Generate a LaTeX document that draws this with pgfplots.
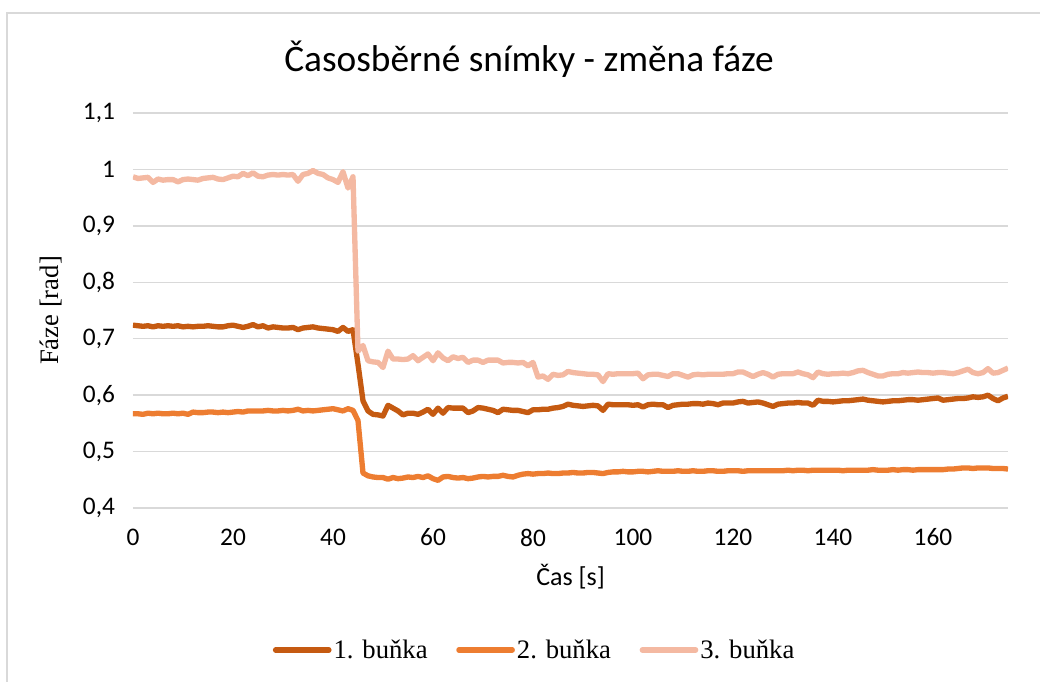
\documentclass[border=0pt]{standalone}
\usepackage{fontspec}
\setmainfont{Carlito}
\newfontfamily\timesf{Liberation Serif}
\usepackage{pgfplots}
\usepackage{pgfplotstable}
\pgfplotsset{compat=1.18}
\definecolor{cA}{HTML}{C55A11}
\definecolor{cB}{HTML}{ED7D31}
\definecolor{cC}{HTML}{F4B9A2}
\definecolor{gridc}{HTML}{D9D9D9}
\pgfplotstableread{
x s1 s2 s3
0 0.724 0.567 0.987
1 0.723 0.567 0.984
2 0.722 0.566 0.985
3 0.723 0.568 0.986
4 0.721 0.567 0.977
5 0.723 0.568 0.983
6 0.722 0.567 0.981
7 0.723 0.567 0.982
8 0.722 0.568 0.982
9 0.723 0.567 0.978
10 0.721 0.568 0.982
11 0.722 0.566 0.983
12 0.721 0.570 0.982
13 0.722 0.569 0.981
14 0.722 0.569 0.984
15 0.723 0.570 0.985
16 0.722 0.570 0.986
17 0.721 0.569 0.983
18 0.721 0.570 0.982
19 0.723 0.569 0.985
20 0.724 0.570 0.988
21 0.722 0.571 0.987
22 0.720 0.570 0.993
23 0.722 0.572 0.989
24 0.725 0.572 0.994
25 0.721 0.572 0.988
26 0.723 0.572 0.987
27 0.719 0.573 0.990
28 0.721 0.572 0.991
29 0.720 0.572 0.990
30 0.719 0.573 0.991
31 0.719 0.572 0.990
32 0.720 0.573 0.991
33 0.716 0.575 0.979
34 0.719 0.572 0.991
35 0.720 0.573 0.993
36 0.721 0.572 0.998
37 0.719 0.573 0.993
38 0.718 0.574 0.991
39 0.717 0.575 0.985
40 0.716 0.576 0.982
41 0.713 0.574 0.977
42 0.720 0.572 0.996
43 0.713 0.576 0.967
44 0.716 0.573 0.987
45 0.655 0.555 0.678
46 0.590 0.462 0.688
47 0.572 0.457 0.661
48 0.566 0.455 0.659
49 0.565 0.454 0.658
50 0.563 0.454 0.649
51 0.582 0.451 0.678
52 0.577 0.454 0.664
53 0.572 0.452 0.664
54 0.565 0.453 0.663
55 0.568 0.455 0.664
56 0.568 0.454 0.670
57 0.566 0.456 0.661
58 0.570 0.454 0.667
59 0.575 0.457 0.673
60 0.566 0.452 0.661
61 0.577 0.449 0.675
62 0.568 0.455 0.666
63 0.578 0.456 0.661
64 0.577 0.454 0.668
65 0.577 0.453 0.665
66 0.577 0.454 0.667
67 0.569 0.452 0.658
68 0.572 0.453 0.662
69 0.578 0.455 0.662
70 0.577 0.456 0.658
71 0.575 0.455 0.662
72 0.573 0.456 0.662
73 0.569 0.456 0.662
74 0.575 0.458 0.657
75 0.574 0.456 0.658
76 0.573 0.455 0.658
77 0.573 0.458 0.657
78 0.571 0.460 0.658
79 0.569 0.461 0.652
80 0.574 0.460 0.658
81 0.574 0.461 0.632
82 0.575 0.461 0.634
83 0.575 0.462 0.628
84 0.577 0.461 0.637
85 0.578 0.461 0.635
86 0.580 0.462 0.636
87 0.584 0.462 0.642
88 0.582 0.463 0.640
89 0.581 0.462 0.639
90 0.580 0.462 0.638
91 0.581 0.463 0.637
92 0.582 0.463 0.637
93 0.581 0.462 0.636
94 0.573 0.461 0.624
95 0.584 0.463 0.638
96 0.583 0.464 0.637
97 0.583 0.464 0.638
98 0.583 0.465 0.638
99 0.583 0.464 0.638
100 0.582 0.464 0.638
101 0.583 0.465 0.639
102 0.579 0.465 0.629
103 0.583 0.464 0.636
104 0.584 0.465 0.637
105 0.583 0.466 0.637
106 0.583 0.465 0.635
107 0.578 0.465 0.633
108 0.582 0.465 0.638
109 0.583 0.466 0.638
110 0.584 0.465 0.635
111 0.584 0.465 0.632
112 0.585 0.466 0.636
113 0.585 0.465 0.637
114 0.584 0.465 0.636
115 0.586 0.466 0.637
116 0.585 0.466 0.637
117 0.583 0.465 0.637
118 0.586 0.465 0.637
119 0.586 0.466 0.638
120 0.586 0.466 0.638
121 0.588 0.466 0.641
122 0.589 0.465 0.641
123 0.586 0.466 0.637
124 0.587 0.466 0.633
125 0.588 0.466 0.637
126 0.586 0.466 0.640
127 0.583 0.466 0.637
128 0.580 0.466 0.632
129 0.584 0.466 0.637
130 0.585 0.466 0.638
131 0.586 0.467 0.638
132 0.586 0.466 0.638
133 0.587 0.467 0.641
134 0.586 0.467 0.638
135 0.586 0.466 0.636
136 0.582 0.467 0.631
137 0.591 0.467 0.641
138 0.589 0.467 0.638
139 0.589 0.467 0.637
140 0.588 0.467 0.638
141 0.589 0.467 0.638
142 0.590 0.466 0.639
143 0.590 0.467 0.638
144 0.591 0.467 0.640
145 0.592 0.467 0.643
146 0.593 0.467 0.644
147 0.591 0.467 0.640
148 0.590 0.468 0.637
149 0.589 0.467 0.634
150 0.588 0.467 0.634
151 0.589 0.467 0.637
152 0.590 0.468 0.638
153 0.590 0.467 0.638
154 0.591 0.468 0.640
155 0.592 0.468 0.639
156 0.592 0.467 0.640
157 0.591 0.468 0.641
158 0.592 0.468 0.640
159 0.593 0.468 0.640
160 0.594 0.468 0.639
161 0.595 0.468 0.640
162 0.591 0.468 0.640
163 0.592 0.469 0.639
164 0.593 0.469 0.638
165 0.594 0.470 0.640
166 0.594 0.471 0.643
167 0.595 0.471 0.646
168 0.597 0.470 0.640
169 0.596 0.471 0.638
170 0.597 0.471 0.640
171 0.600 0.471 0.647
172 0.594 0.470 0.639
173 0.590 0.470 0.640
174 0.595 0.470 0.644
175 0.598 0.469 0.648
}\datatable
\begin{document}
\begin{tikzpicture}
\useasboundingbox (0pt,0pt) rectangle (780pt,511.5pt);
\draw[gridc,line width=1.5pt] (5.25pt,0pt) -- (5.25pt,501.75pt) -- (780pt,501.75pt);
\node[anchor=base,font=\fontsize{28}{32}\selectfont] at (396.75pt,457.5pt) {Časosběrné snímky - změna fáze};
\begin{axis}[
  at={(99.75pt,130.5pt)}, anchor=south west,
  width=656.25pt, height=296.25pt, scale only axis,
  xmin=0, xmax=175, ymin=0.4, ymax=1.1,
  xtick={0,20,...,160},
  ytick={0.4,0.5,0.6,0.7,0.8,0.9,1.0,1.1},
  /pgf/number format/use comma,
  /pgf/number format/assume math mode=true,
  tick label style={font=\fontsize{19}{21}\selectfont},
  xticklabel style={yshift=-12pt},
  yticklabel style={xshift=-10pt},
  major tick length=0pt,
  axis line style={draw=none},
  ymajorgrids, grid style={gridc,line width=1pt},
  xlabel={Čas [s]},
  xlabel style={font=\fontsize{19.5}{21}\selectfont, yshift=-6.5pt},
  ylabel={\timesf Fáze [rad]},
  ylabel style={font=\fontsize{20}{22}\selectfont, yshift=9pt},
  legend columns=3,
  legend style={at={(0.459,-0.3595)}, anchor=center, draw=none, fill=none,
    font=\timesf\fontsize{20}{22}\selectfont,
    /tikz/every even column/.append style={column sep=20pt},
    nodes={inner sep=1.5pt}},
  legend image code/.code={\draw[#1,line cap=round] (0pt,0pt) -- (40pt,0pt);},
  every axis plot/.append style={line width=4pt, line join=round},
]
\addplot[cA] table[x=x,y=s1] {\datatable};
\addplot[cB] table[x=x,y=s2] {\datatable};
\addplot[cC] table[x=x,y=s3] {\datatable};
\legend{1. buňka,2. buňka,3. buňka}
\end{axis}
\end{tikzpicture}
\end{document}
